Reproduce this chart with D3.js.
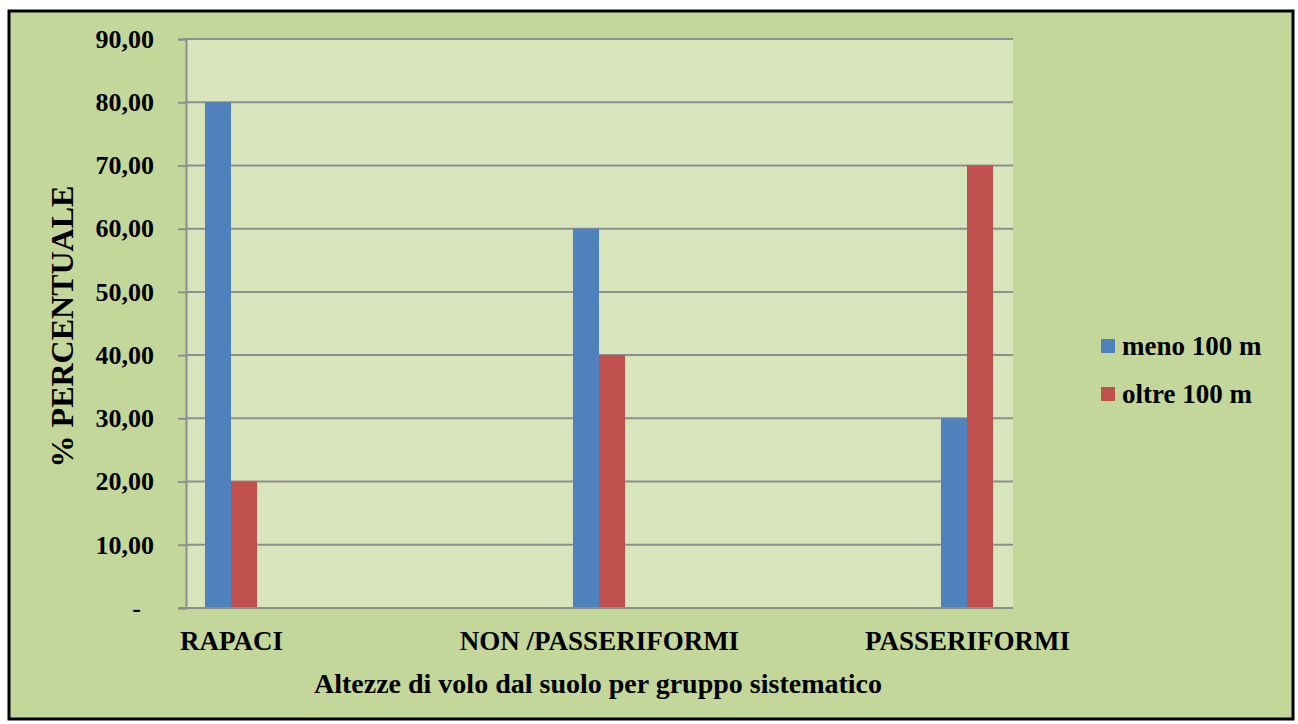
<!DOCTYPE html>
<html>
<head>
<meta charset="utf-8">
<script src="https://cdn.jsdelivr.net/npm/d3@7"></script>
<style>
  html, body { margin: 0; padding: 0; background: #ffffff; }
  svg { display: block; }
  text { font-family: "Liberation Serif", "DejaVu Serif", serif; font-weight: bold; fill: #000; }
</style>
</head>
<body>
<svg id="chart" width="1298" height="724"></svg>
<script>
// Flight height by systematic group
const categories = ["RAPACI", "NON /PASSERIFORMI", "PASSERIFORMI"];
const seriesNames = ["meno 100 m", "oltre 100 m"];
const menoValues = [80, 60, 30];
const oltreValues = [20, 40, 70];
const yTicks = [0, 10, 20, 30, 40, 50, 60, 70, 80, 90];
const colors = ["#4F81BD", "#C0504D"];

const svg = d3.select("#chart");

// outer frame
svg.append("rect")
  .attr("x", 9).attr("y", 11).attr("width", 1284).attr("height", 708)
  .attr("fill", "#C4D79B").attr("stroke", "#000").attr("stroke-width", 3);

const plot = { left: 186, right: 1013, top: 39, bottom: 608 };

const y = d3.scaleLinear().domain([0, 90]).range([plot.bottom, plot.top]);
const x = d3.scalePoint().domain(categories).range([plot.left + 45, plot.right - 46]);
const barW = 26;
const xs = d3.scaleBand().domain(seriesNames).range([-barW, barW]).padding(0);

// plot background
svg.append("rect")
  .attr("x", plot.left).attr("y", plot.top)
  .attr("width", plot.right - plot.left).attr("height", plot.bottom - plot.top)
  .attr("fill", "#D8E4BC");

// gridlines
svg.append("g").selectAll("line").data(yTicks.filter(d => d > 0)).join("line")
  .attr("x1", plot.left).attr("x2", plot.right)
  .attr("y1", d => y(d)).attr("y2", d => y(d))
  .attr("stroke", "#8E8E8E").attr("stroke-width", 2);

// bars
const rows = categories.map((c, i) => ({ cat: c, vals: [menoValues[i], oltreValues[i]] }));
const groups = svg.append("g").selectAll("g").data(rows).join("g")
  .attr("transform", d => `translate(${x(d.cat)},0)`);
groups.selectAll("rect").data(d => d.vals.map((v, j) => ({ v, s: seriesNames[j], j }))).join("rect")
  .attr("x", d => xs(d.s)).attr("width", xs.bandwidth())
  .attr("y", d => y(d.v)).attr("height", d => y(0) - y(d.v))
  .attr("fill", d => colors[d.j]);

// y axis (zero shown as a dash, accounting-style)
const yAxis = d3.axisLeft(y).tickValues(yTicks).tickSize(8).tickPadding(24)
  .tickFormat(d => d === 0 ? "-" : d3.format(".2f")(d).replace(".", ","));
const yg = svg.append("g").attr("transform", `translate(${plot.left},0)`).call(yAxis);
yg.select(".domain").attr("stroke", "#8E8E8E").attr("stroke-width", 2);
yg.selectAll(".tick line").attr("stroke", "#8E8E8E").attr("stroke-width", 2);
yg.selectAll(".tick text")
  .attr("font-family", '"Liberation Serif", serif')
  .attr("font-weight", "bold").attr("font-size", 26).attr("fill", "#000")
  .attr("dx", d => d === 0 ? -13 : 0);

// x axis baseline and category labels
const xAxis = d3.axisBottom(x).tickSize(0).tickPadding(0);
const xg = svg.append("g").attr("transform", `translate(0,${plot.bottom})`).call(xAxis);
xg.select(".domain").attr("d", `M${plot.left - 8},0H${plot.right}`)
  .attr("stroke", "#8E8E8E").attr("stroke-width", 2);
xg.selectAll(".tick text")
  .attr("font-family", '"Liberation Serif", serif')
  .attr("font-weight", "bold").attr("font-size", 27).attr("fill", "#000")
  .attr("y", 42).attr("dy", 0);

// axis titles
svg.append("text")
  .attr("transform", `translate(73,${(plot.top + plot.bottom) / 2 + 3}) rotate(-90)`)
  .attr("text-anchor", "middle").attr("font-size", 32)
  .text("% PERCENTUALE");
svg.append("text")
  .attr("x", 598).attr("y", 693).attr("text-anchor", "middle").attr("font-size", 28)
  .text("Altezze di volo dal suolo per gruppo sistematico");

// legend
const legend = svg.append("g").attr("transform", "translate(1101,339)");
const li = legend.selectAll("g").data(seriesNames).join("g")
  .attr("transform", (d, i) => `translate(0,${i * 48})`);
li.append("rect").attr("width", 14).attr("height", 14).attr("fill", (d, i) => colors[i]);
li.append("text").attr("x", 21).attr("y", 16).attr("font-size", 27).text(d => d);
</script>
</body>
</html>
